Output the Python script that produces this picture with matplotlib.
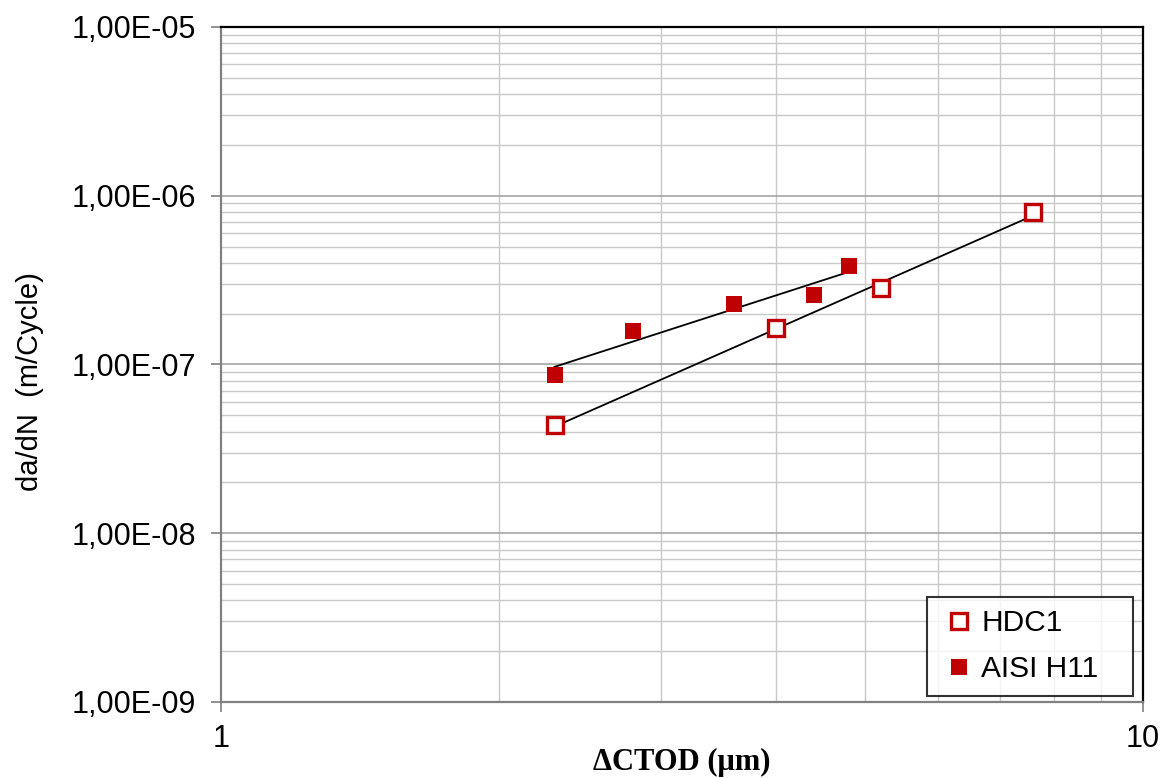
import matplotlib
matplotlib.use('Agg')
import matplotlib.pyplot as plt
import numpy as np
from matplotlib.ticker import FixedLocator, FuncFormatter, NullFormatter, LogLocator

# data
hdc1_ctod = [2.3, 4.0, 5.2, 7.6]
hdc1_rate = [4.35e-8, 1.65e-7, 2.84e-7, 7.97e-7]
h11_ctod = [2.3, 2.8, 3.6, 4.4, 4.8]
h11_rate = [8.72e-8, 1.57e-7, 2.27e-7, 2.57e-7, 3.81e-7]
series_names = ['HDC1', 'AISI H11']

red = '#C00000'
sans = 'Liberation Sans'


def power_fit(x, y):
    # Excel-style power trendline: straight line in log-log space
    lx, ly = np.log10(x), np.log10(y)
    k, b = np.polyfit(lx, ly, 1)
    xs = np.array([min(x), max(x)])
    return xs, 10 ** (b + k * np.log10(xs))


fig = plt.figure(figsize=(11.65, 7.78), dpi=100)
ax = fig.add_axes([0.1897, 0.0977, 0.7914, 0.8676])
ax.set_xscale('log')
ax.set_yscale('log')
ax.set_xlim(1, 10)
ax.set_ylim(1e-9, 1e-5)

ax.grid(True, which='major', color='#A6A6A6', lw=1.2)
ax.grid(True, which='minor', color='#C8C8C8', lw=1.0)
ax.set_axisbelow(True)

for xs, ys in (power_fit(hdc1_ctod, hdc1_rate), power_fit(h11_ctod, h11_rate)):
    ax.plot(xs, ys, color='black', lw=1.3, zorder=3)

ax.plot(hdc1_ctod, hdc1_rate, ls='none', marker='s', ms=11.5, mfc='white',
        mec=red, mew=2.4, label=series_names[0], zorder=4)
ax.plot(h11_ctod, h11_rate, ls='none', marker='s', ms=12, mfc=red,
        mec=red, mew=0, label=series_names[1], zorder=4)

ax.yaxis.set_major_locator(FixedLocator([1e-9, 1e-8, 1e-7, 1e-6, 1e-5]))
ax.yaxis.set_major_formatter(FuncFormatter(
    lambda v, p: '1,00E{:03d}'.format(int(round(np.log10(v))))))
ax.yaxis.set_minor_locator(LogLocator(base=10, subs=np.arange(2, 10)))
ax.yaxis.set_minor_formatter(NullFormatter())
ax.xaxis.set_major_locator(FixedLocator([1, 10]))
ax.xaxis.set_major_formatter(FuncFormatter(lambda v, p: '%d' % v))
ax.xaxis.set_minor_locator(LogLocator(base=10, subs=np.arange(2, 10)))
ax.xaxis.set_minor_formatter(NullFormatter())

ax.tick_params(which='major', length=7, width=1.2, color='#808080',
               labelsize=22, labelfontfamily=sans)
ax.tick_params(axis='y', which='major', pad=11)
ax.tick_params(axis='x', which='major', pad=9)
ax.tick_params(which='minor', length=0)

ax.spines['left'].set_color('#808080')
ax.spines['bottom'].set_color('#808080')
ax.spines['top'].set_color('black')
ax.spines['right'].set_color('black')
for s in ax.spines.values():
    s.set_linewidth(1.6)

fig.text(30 / 1165, 1 - 382 / 778, 'da/dN  (m/Cycle)', rotation=90,
         fontsize=21, family=sans, ha='center', va='center')
fig.text(682 / 1165, 1 - 762 / 778, '\u0394CTOD (\u03bcm)', fontsize=22,
         family='Liberation Serif', fontweight='bold', ha='center', va='center')

leg = ax.legend(loc='lower left', bbox_to_anchor=(0.7657, 0.009, 0.2234, 0.15),
                mode='expand', borderaxespad=0, prop={'family': sans, 'size': 21.5},
                frameon=True, fancybox=False, edgecolor='black',
                handlelength=1.3, handletextpad=0.1, labelspacing=0.6,
                borderpad=0.42)
leg.get_frame().set_linewidth(1.5)

fig.savefig('out.png', dpi=100)
